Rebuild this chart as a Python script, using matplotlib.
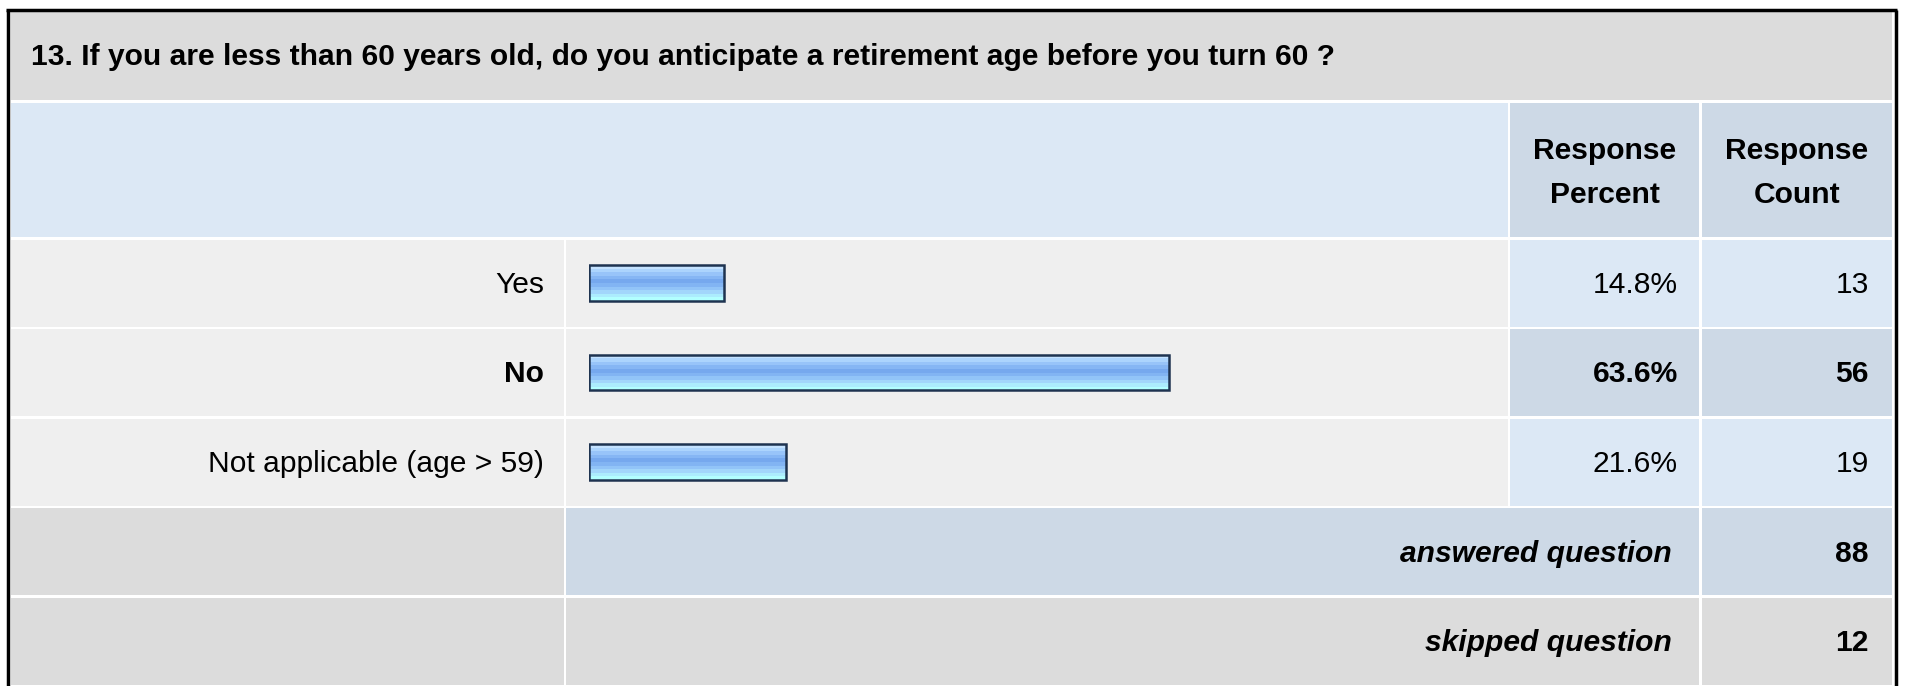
import matplotlib
matplotlib.use("Agg")
import matplotlib.pyplot as plt
from matplotlib.patches import Rectangle

plt.rcParams['font.family'] = ['Liberation Sans', 'DejaVu Sans']

# data
question = "13. If you are less than 60 years old, do you anticipate a retirement age before you turn 60 ?"
answers = ["Yes", "No", "Not applicable (age > 59)"]
percents = [14.8, 63.6, 21.6]
counts = [13, 56, 19]
answered = 88
skipped = 12
highlight = 1  # the row shown in bold

W, H = 1907, 686
fig = plt.figure(figsize=(W / 100, H / 100), dpi=100)
ax = fig.add_axes([0, 0, 1, 1])
ax.set_xlim(0, W)
ax.set_ylim(H, 0)
ax.axis('off')

FS = 21.6
GRAY = '#dcdcdc'
LIGHT = '#efefef'
BLUE = '#dce8f5'
BLUE2 = '#cdd9e6'

# column edges
c0, c1 = 11, 564
c2, c3 = 566, 1508
c4, c5 = 1510, 1699
c6, c7 = 1702, 1892
pitch = 89.5
rh = 87
row_top = 239.5


def cell(x0, x1, y0, y1, color):
    ax.add_patch(Rectangle((x0, y0), x1 - x0, y1 - y0, facecolor=color, edgecolor='none'))


# outer frame
ax.plot([7.5, 7.5], [H + 5, 9.5], color='black', lw=2.5, solid_capstyle='butt')
ax.plot([6, 1897], [9.5, 9.5], color='black', lw=2.5, solid_capstyle='butt')
ax.plot([1895.5, 1895.5], [9.5, H + 5], color='black', lw=2.5, solid_capstyle='butt')

# title row
cell(c0, c7, 12, 100, GRAY)
ax.text(31, 57, question, fontsize=FS, fontweight='bold', ha='left', va='center')

# header row
cell(c0, c3, 103, 237, BLUE)
cell(c4, c5, 103, 237, BLUE2)
cell(c6, c7, 103, 237, BLUE2)
ax.text((c4 + c5) / 2, 173, "Response\nPercent", fontsize=FS, fontweight='bold',
        ha='center', va='center', linespacing=1.75)
ax.text((c6 + c7) / 2, 173, "Response\nCount", fontsize=FS, fontweight='bold',
        ha='center', va='center', linespacing=1.75)

# answer rows
for i, (lab, p, n) in enumerate(zip(answers, percents, counts)):
    y0 = row_top + i * pitch
    y1 = y0 + rh
    yc = (y0 + y1) / 2 + 2
    col = BLUE2 if i == highlight else BLUE
    fw = 'bold' if i == highlight else 'normal'
    cell(c0, c1, y0, y1, LIGHT)
    cell(c2, c3, y0, y1, LIGHT)
    cell(c4, c5, y0, y1, col)
    cell(c6, c7, y0, y1, col)
    ax.text(544, yc, lab, fontsize=FS, fontweight=fw, ha='right', va='center')
    ax.text(1678, yc, f"{p:.1f}%", fontsize=FS, fontweight=fw, ha='right', va='center')
    ax.text(1869, yc, str(n), fontsize=FS, fontweight=fw, ha='right', va='center')

# answered / skipped rows
y0 = row_top + 3 * pitch
cell(c0, c1, y0, y0 + rh, GRAY)
cell(c2, c5, y0, y0 + rh, BLUE2)
cell(c6, c7, y0, y0 + rh, BLUE2)
ax.text(1672, y0 + rh / 2 + 2, "answered question", fontsize=FS, fontweight='bold',
        fontstyle='italic', ha='right', va='center')
ax.text(1869, y0 + rh / 2 + 2, str(answered), fontsize=FS, fontweight='bold', ha='right', va='center')

y0 = row_top + 4 * pitch
cell(c0, c1, y0, y0 + rh, GRAY)
cell(c2, c5, y0, y0 + rh, GRAY)
cell(c6, c7, y0, y0 + rh, GRAY)
ax.text(1672, y0 + rh / 2 + 2, "skipped question", fontsize=FS, fontweight='bold',
        fontstyle='italic', ha='right', va='center')
ax.text(1869, y0 + rh / 2 + 2, str(skipped), fontsize=FS, fontweight='bold', ha='right', va='center')

# bars, in their own axes: 0..100 % over the bar column
bx0, bw = 589, 912
btop = row_top - 1.25
bh = 3 * pitch
bax = fig.add_axes([bx0 / W, 1 - (btop + bh) / H, bw / W, bh / H])
bax.set_xlim(0, 100)
bax.set_ylim(len(answers) - 0.5, -0.5)
bax.axis('off')
bax.patch.set_alpha(0)

bar_h = 0.40
stripes = ['#c4e2ff', '#acd4fd', '#98c4f9', '#86b6f4', '#76a8ee', '#82b4f3',
           '#92c4f8', '#a2d6fb', '#acecfd', '#b2ffff']
ypos = list(range(len(answers)))
n_s = len(stripes)
for k, c in enumerate(stripes):
    off = -bar_h / 2 + (k + 0.5) * bar_h / n_s
    bax.barh([y + off for y in ypos], percents, height=bar_h / n_s, left=0,
             color=c, edgecolor='none')
bax.barh(ypos, percents, height=bar_h, left=0, facecolor='none',
         edgecolor='#1e3350', linewidth=1.8)

fig.savefig('out.png', dpi=100, facecolor='white')
